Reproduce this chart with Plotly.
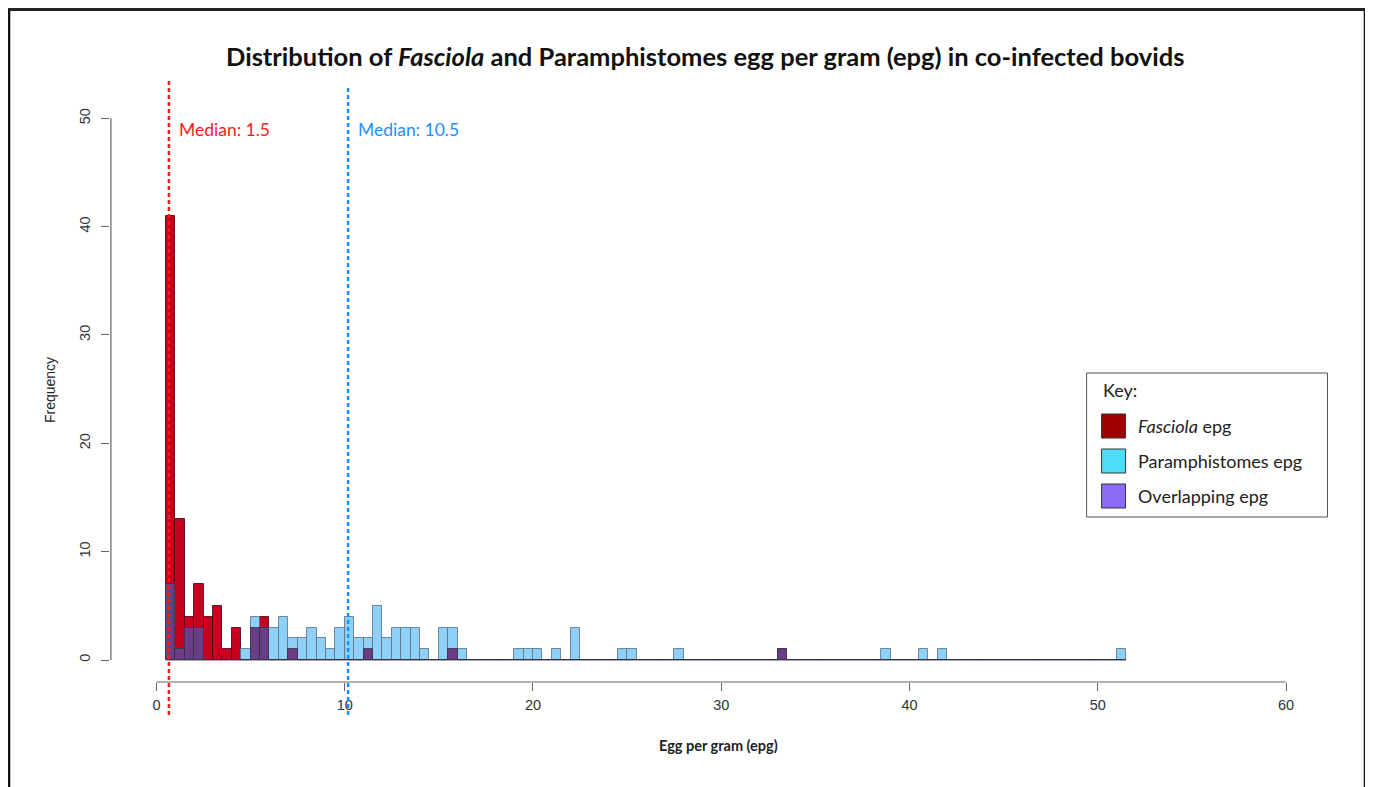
import numpy as np
import plotly.graph_objects as go

# ---------------- data ----------------
bin_width = 0.5
bin_start = 0.5
n_bins = 102  # 0.5 .. 51.5

fasciola_bins = [0.5, 1.0, 1.5, 2.0, 2.5, 3.0, 3.5, 4.0, 5.0, 5.5, 7.0, 11.0, 15.5, 33.0]
fasciola_counts = [41, 13, 4, 7, 4, 5, 1, 3, 3, 4, 1, 1, 1, 1]

paramph_bins = [0.5, 1.0, 1.5, 2.0, 4.5, 5.0, 5.5, 6.0, 6.5, 7.0, 7.5, 8.0, 8.5, 9.0, 9.5,
                10.0, 10.5, 11.0, 11.5, 12.0, 12.5, 13.0, 13.5, 14.0, 15.0, 15.5, 16.0,
                19.0, 19.5, 20.0, 21.0, 22.0, 24.5, 25.0, 27.5, 33.0, 38.5, 40.5, 41.5, 51.0]
paramph_counts = [7, 1, 3, 3, 1, 4, 3, 3, 4, 2, 2, 3, 2, 1, 3,
                  4, 2, 2, 5, 2, 3, 3, 3, 1, 3, 3, 1,
                  1, 1, 1, 1, 3, 1, 1, 1, 1, 1, 1, 1, 1]

median_fasciola_pos = 0.66
median_paramph_pos = 10.18
median_fasciola_label = "Median: 1.5"
median_paramph_label = "Median: 10.5"

x_ticks = [0, 10, 20, 30, 40, 50, 60]
y_ticks = [0, 10, 20, 30, 40, 50]

# ---------------- build full bin arrays ----------------
edges = bin_start + bin_width * np.arange(n_bins)
f_full = np.zeros(n_bins)
p_full = np.zeros(n_bins)
for b, c in zip(fasciola_bins, fasciola_counts):
    f_full[int(round((b - bin_start) / bin_width))] = c
for b, c in zip(paramph_bins, paramph_counts):
    p_full[int(round((b - bin_start) / bin_width))] = c
overlap = np.minimum(f_full, p_full)

# ---------------- pixel geometry (page pixels; page has 8px body margin) ----------------
OFF = 8
W, H = 1373 - OFF, 787 - OFF
L, R, T, B = 110, 1286.5, 81, 715
x0_px, x60_px = 156.5, 1286.5
y0_px, y50_px = 660, 118.3
xs = (x60_px - x0_px) / 60.0
ys = (y0_px - y50_px) / 50.0
x_range = [(L - x0_px) / xs, (R - x0_px) / xs]
y_range = [(y0_px - B) / ys, (y0_px - T) / ys]


def px(xp):
    return (xp - L) / (R - L)


def py(yp):
    return (B - yp) / (B - T)


RED = "#C8001E"
BLUE = "#8ED0F7"
PURPLE = "#6A3D84"
EDGE = "rgba(45,45,70,0.75)"

fig = go.Figure()
fig.add_trace(go.Bar(x=edges, y=f_full, width=bin_width, offset=0, name="Fasciola epg",
                     marker=dict(color=RED, line=dict(color="rgba(70,0,20,0.8)", width=1))))
fig.add_trace(go.Bar(x=edges, y=p_full, width=bin_width, offset=0, name="Paramphistomes epg",
                     marker=dict(color=BLUE, line=dict(color="rgba(90,110,130,0.8)", width=1))))
fig.add_trace(go.Bar(x=edges, y=overlap, width=bin_width, offset=0, name="Overlapping epg",
                     marker=dict(color=PURPLE, line=dict(color=EDGE, width=1))))

shapes = []
shapes.append(dict(type="line", xref="x", yref="y", x0=edges[0], x1=edges[-1] + bin_width,
                   y0=0, y1=0, line=dict(color="#555", width=1.2), layer="below"))
x_axis_y = (y0_px - 682) / ys
shapes.append(dict(type="line", xref="x", yref="y", x0=x_ticks[0], x1=x_ticks[-1],
                   y0=x_axis_y, y1=x_axis_y, line=dict(color="#666", width=1.2)))
shapes.append(dict(type="line", xref="paper", yref="y", x0=0.0008, x1=0.0008,
                   y0=y_ticks[0], y1=y_ticks[-1], line=dict(color="#666", width=1.2)))
shapes.append(dict(type="line", xref="x", yref="paper", x0=median_fasciola_pos, x1=median_fasciola_pos,
                   y0=0, y1=1, line=dict(color="#FF1A1A", width=2.5, dash="4px,3px")))
shapes.append(dict(type="line", xref="x", yref="paper", x0=median_paramph_pos, x1=median_paramph_pos,
                   y0=0, y1=py(85), line=dict(color="#1E8FFF", width=2.5, dash="4px,3px")))
# outer frame (top edge drawn thicker)
shapes.append(dict(type="rect", xref="paper", yref="paper", x0=px(9), x1=px(1365.5),
                   y0=py(800), y1=py(9.5), line=dict(color="#111", width=2.5)))
shapes.append(dict(type="line", xref="paper", yref="paper", x0=px(8), x1=px(1367),
                   y0=py(9.5), y1=py(9.5), line=dict(color="#222", width=3)))
shapes.append(dict(type="rect", xref="paper", yref="paper", x0=px(1087), x1=px(1328),
                   y0=py(517), y1=py(373), line=dict(color="#555", width=1), fillcolor="white"))
leg_items = [("<i>Fasciola</i> epg", "#A00000", 426),
             ("Paramphistomes epg", "#4DDDF8", 461),
             ("Overlapping epg", "#8B6CF7", 496)]
annotations = []
for text, col, yc in leg_items:
    shapes.append(dict(type="rect", xref="paper", yref="paper", x0=px(1102), x1=px(1126),
                       y0=py(yc + 12), y1=py(yc - 12), line=dict(color="#333", width=1),
                       fillcolor=col))
    annotations.append(dict(text=text, xref="paper", yref="paper", x=px(1136), y=py(yc),
                            xanchor="left", yanchor="middle", showarrow=False,
                            font=dict(family="Lato", size=18, color="#222")))
annotations.append(dict(text="Key:", xref="paper", yref="paper", x=px(1101), y=py(390),
                        xanchor="left", yanchor="middle", showarrow=False,
                        font=dict(family="Lato", size=18, color="#222")))

annotations.append(dict(text="<b>Distribution of <i>Fasciola</i> and Paramphistomes egg per gram (epg) in co-infected bovids</b>",
                        xref="paper", yref="paper", x=px(705), y=py(56), xanchor="center",
                        yanchor="middle", showarrow=False,
                        font=dict(family="Lato", size=25.5, color="#111")))
annotations.append(dict(text=median_fasciola_label, xref="paper", yref="paper", x=px(177), y=py(130),
                        xanchor="left", yanchor="middle", showarrow=False,
                        font=dict(family="Lato", size=17.5, color="#FF1A1A")))
annotations.append(dict(text=median_paramph_label, xref="paper", yref="paper", x=px(356), y=py(130),
                        xanchor="left", yanchor="middle", showarrow=False,
                        font=dict(family="Lato", size=17.5, color="#1E8FFF")))
annotations.append(dict(text="Frequency", xref="paper", yref="paper", x=px(50), y=py(390),
                        xanchor="center", yanchor="middle", textangle=-90, showarrow=False,
                        font=dict(family="Liberation Sans", size=14, color="#222")))
annotations.append(dict(text="<b>Egg per gram (epg)</b>", xref="paper", yref="paper", x=px(719), y=py(745),
                        xanchor="center", yanchor="middle", showarrow=False,
                        font=dict(family="Lato", size=14.5, color="#222")))

fig.update_layout(
    width=W, height=H,
    margin=dict(l=L - OFF, r=W - (R - OFF), t=T - OFF, b=H - (B - OFF), autoexpand=False),
    paper_bgcolor="white", plot_bgcolor="white",
    barmode="overlay", bargap=0, showlegend=False,
    shapes=shapes, annotations=annotations,
    xaxis=dict(range=x_range, tickvals=x_ticks, ticks="outside", ticklen=8, tickcolor="#666",
               tickwidth=1.2, showgrid=False, zeroline=False, showline=False,
               anchor="free", position=py(682), ticklabelstandoff=2,
               tickfont=dict(family="Liberation Sans", size=14.5, color="#333")),
    yaxis=dict(range=y_range, tickvals=y_ticks, ticks="outside", ticklen=8, tickcolor="#666",
               tickwidth=1.2, showgrid=False, zeroline=False, showline=False, tickangle=-90,
               ticklabelstandoff=5,
               tickfont=dict(family="Liberation Sans", size=14.5, color="#333")),
)

fig.write_html("out.html")
